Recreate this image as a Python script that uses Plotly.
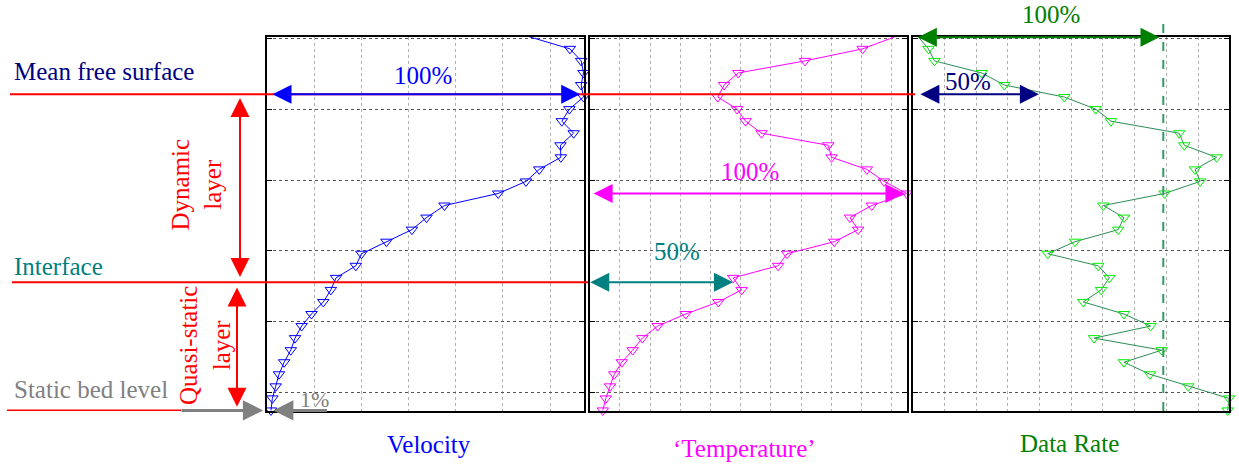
import plotly.graph_objects as go

# ---------------- data ----------------
# measurement levels (height above the static bed reference), top -> bottom
heights = [5.02, 4.85, 4.68, 4.51, 4.34, 4.17, 4.00, 3.83, 3.66, 3.49, 3.32,
           3.15, 2.98, 2.81, 2.64, 2.47, 2.30, 2.13, 1.96, 1.79, 1.62, 1.45,
           1.28, 1.11, 0.94, 0.77, 0.60, 0.43, 0.26, 0.09, -0.08, -0.25]

velocity = [5.56, 6.42, 6.66, 6.71, 6.66, 6.71, 6.41, 6.25, 6.50, 6.22, 6.23,
            5.77, 5.49, 4.90, 3.76, 3.38, 3.07, 2.53, 2.00, 1.88, 1.46, 1.35,
            1.19, 0.94, 0.73, 0.59, 0.50, 0.36, 0.25, 0.18, 0.11, 0.08]

temperature = [10.11, 9.04, 7.13, 4.92, 4.45, 4.24, 4.88, 5.16, 5.69, 7.90, 8.01,
               9.18, 9.75, 10.50, 9.34, 8.62, 8.89, 8.10, 6.54, 6.24, 4.75, 5.03,
               4.26, 3.18, 2.25, 1.74, 1.42, 1.06, 0.81, 0.67, 0.53, 0.43]

data_rate = [0.18, 0.50, 0.69, 2.18, 2.89, 4.78, 5.77, 6.25, 8.40, 8.56, 9.58,
             8.90, 9.06, 7.94, 6.01, 6.66, 6.48, 5.12, 4.26, 5.85, 6.20, 5.94,
             5.38, 6.66, 7.50, 5.72, 7.85, 6.66, 7.48, 8.69, 9.97, 9.93]

# reference levels
mean_free_surface = 4.21
interface = 1.557
static_bed = -0.25
temp_arrow_level = 2.81
rate_top_level = 5.013

# percentage marks
vel_full = 6.72
temp_full = 10.6
temp_half = 4.87
rate_full = 7.9
rate_half = 4.1

panel_titles = ["Velocity", "\u2018Temperature\u2019", "Data Rate"]

# ---------------- layout helpers ----------------
W, H = 1239, 466
T, B = 37, 55
PH = H - T - B


def px(x):
    return x / W


def py(y):
    return (H - B - y) / PH


FONT = "Liberation Serif, Times New Roman, serif"
RED = "#FF0000"

fig = go.Figure()

series = [
    (velocity, "x", "y", "#0000FF", "#0000FF"),
    (temperature, "x2", "y2", "#FF00FF", "#FF00FF"),
    (data_rate, "x3", "y3", "#2E8B57", "#00EE00"),
]
for vals, xa, ya, lc, mc in series:
    fig.add_trace(go.Scatter(
        x=vals, y=heights, xaxis=xa, yaxis=ya, mode="lines+markers",
        line=dict(color=lc, width=1),
        marker=dict(symbol="triangle-down-open", size=10, color=mc,
                    line=dict(width=1, color=mc)),
        cliponaxis=False, showlegend=False, hoverinfo="skip"))

yr = [-0.258, 5.017]
common_y = dict(range=yr, dtick=1, tick0=0, showgrid=True, gridcolor="#555555",
                griddash="dot", gridwidth=1, ticks="inside", ticklen=5,
                tickcolor="black", mirror="allticks", showline=True,
                linecolor="black", linewidth=2, showticklabels=False,
                zeroline=False, fixedrange=True)
common_x = dict(dtick=1, tick0=0, showgrid=True, gridcolor="#b0b0b0",
                griddash="dot", gridwidth=1, showline=True, mirror=True,
                linecolor="black", linewidth=2, showticklabels=False,
                zeroline=False, ticks="", fixedrange=True)

fig.update_layout(
    width=W, height=H,
    margin=dict(l=0, r=0, t=T, b=B, pad=0),
    paper_bgcolor="white", plot_bgcolor="white",
    font=dict(family=FONT, size=25),
    xaxis=dict(domain=[px(267.2), px(584)], range=[0, 6.72], anchor="y", **common_x),
    xaxis2=dict(domain=[px(589.8), px(906.7)], range=[0, 10.5], anchor="y2", **common_x),
    xaxis3=dict(domain=[px(912.55), px(1229)], range=[0, 9.97], anchor="y3", **common_x),
    yaxis=dict(anchor="x", **common_y),
    yaxis2=dict(anchor="x2", matches="y", **common_y),
    yaxis3=dict(anchor="x3", matches="y", **common_y),
)

# ---------------- reference lines ----------------
shapes = [
    dict(type="line", xref="paper", yref="y", x0=px(10), x1=px(915),
         y0=mean_free_surface, y1=mean_free_surface, line=dict(color=RED, width=2)),
    dict(type="line", xref="paper", yref="y", x0=px(12), x1=px(588),
         y0=interface, y1=interface, line=dict(color=RED, width=2)),
    dict(type="line", xref="paper", yref="y", x0=px(7), x1=px(181),
         y0=static_bed, y1=static_bed, line=dict(color=RED, width=2)),
    dict(type="line", xref="x3", yref="paper", x0=rate_full, x1=rate_full,
         y0=0, y1=py(20), line=dict(color="#339966", width=2, dash="dash")),
]
fig.update_layout(shapes=shapes)

# ---------------- arrows ----------------
anns = []


def harrow(x, ax, y, xref, color, width=2, size=1.9, both=True):
    s = width * size
    return dict(x=x, y=y, ax=ax, ay=y, xref=xref, yref="y", axref=xref, ayref="y",
                text="", showarrow=True, arrowhead=2, startarrowhead=2,
                arrowsize=size, startarrowsize=size, arrowwidth=width,
                arrowcolor=color, arrowside="end+start" if both else "end",
                standoff=s, startstandoff=s if both else 0)


def varrow(xp, y_head, y_tail, color, width=2, size=1.9):
    s = width * size
    return dict(x=px(xp), y=y_head, ax=0, ay=y_tail, xref="paper", yref="y",
                axref="pixel", ayref="y", text="", showarrow=True,
                arrowhead=2, startarrowhead=2, arrowsize=size, startarrowsize=size,
                arrowwidth=width, arrowcolor=color, arrowside="end+start",
                standoff=s, startstandoff=s)


anns.append(harrow(vel_full, 0, mean_free_surface, "x", "#0000FF"))
anns.append(harrow(0, temp_full, temp_arrow_level, "x2", "#FF00FF"))
anns.append(harrow(temp_half, -0.16, interface, "x2", "#008080"))
anns.append(harrow(rate_half, 0.08, mean_free_surface, "x3", "#000080"))
anns.append(harrow(rate_full, 0.0, rate_top_level, "x3", "#008000"))
anns.append(varrow(240, mean_free_surface, interface, RED))
anns.append(varrow(237, static_bed, interface, RED))
anns.append(harrow(0.0, -1.85, static_bed, "x", "#808080", width=3, size=1.35, both=False))
anns.append(harrow(0.04, 1.30, static_bed, "x", "#808080", width=3, size=1.35, both=False))


def label(text, x, y, color, size=25, angle=0, xanchor="center"):
    return dict(text=text, x=px(x), y=py(y), xref="paper", yref="paper",
                showarrow=False, xanchor=xanchor, yanchor="middle",
                textangle=angle, font=dict(family=FONT, size=size, color=color))


anns += [
    label("Mean free surface", 12, 71.5, "#000080", xanchor="left"),
    label("Interface", 12, 266.5, "#008080", xanchor="left"),
    label("Static bed level", 12, 389.5, "#808080", xanchor="left"),
    label("Dynamic<br>layer", 196, 184.5, RED, angle=-90),
    label("Quasi-static<br>layer", 205, 346, RED, angle=-90),
    label("100%", 422.5, 75.5, "#0000FF"),
    label("100%", 749.5, 171, "#FF00FF"),
    label("50%", 677, 251, "#008080"),
    label("50%", 968, 81.7, "#000080"),
    label("100%", 1051, 14.3, "#008000"),
    label("1%", 314, 399.7, "#808080", size=22),
    label(panel_titles[0], 429, 444.7, "#0000FF"),
    label(panel_titles[1], 745, 448.7, "#FF00FF"),
    label(panel_titles[2], 1069.8, 443.3, "#008000"),
]
fig.update_layout(annotations=anns)

fig.write_html(
    "out.html",
    config={"displayModeBar": False, "staticPlot": False},
    post_script="document.body.style.margin='0';document.body.style.padding='0';",
)
